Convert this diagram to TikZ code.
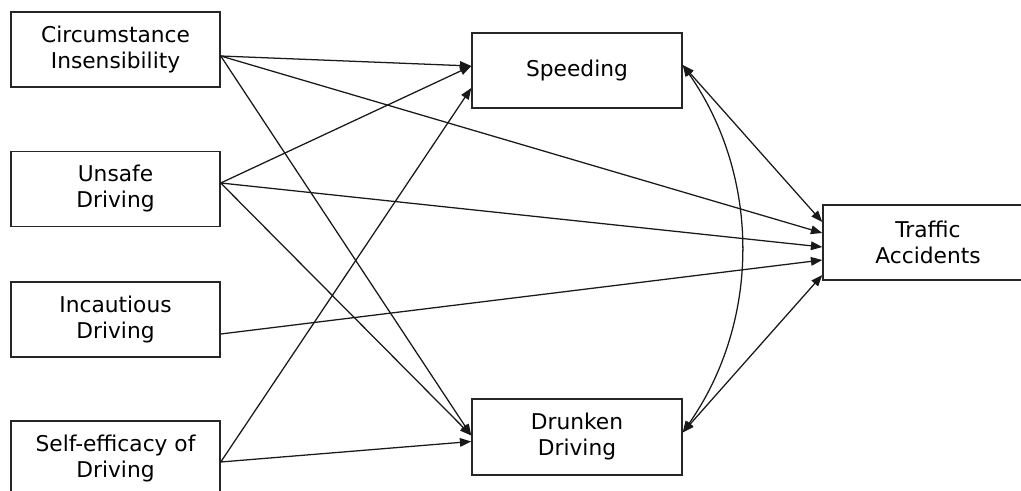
\documentclass[tikz,border=0pt]{standalone}
\usepackage{fontspec}
\setmainfont{DejaVu Sans}
\usetikzlibrary{arrows.meta,calc}
\begin{document}
\begin{tikzpicture}[x=0.75pt,y=-0.75pt,
  box/.style={draw=black!85, line width=1.1pt, fill=white, minimum width=156.75pt, minimum height=56.25pt, inner sep=0pt, align=center, font=\fontsize{16.3}{19.5}\selectfont},
  tip/.tip={Triangle[length=8.5pt,width=6.5pt]},
  conn/.style={line width=0.95pt, draw=black!90, -tip},
  both/.style={line width=0.95pt, draw=black!90, tip-tip}]
\useasboundingbox (0,0) rectangle (1021,491);
\clip (0,0) rectangle (1021,491);

\node[box] (ci) at (115.5,49.5) {Circumstance\\Insensibility};
\node[box] (ud) at (115.5,189) {Unsafe\\Driving};
\node[box] (id) at (115.5,319.5) {Incautious\\Driving};
\node[box] (se) at (115.5,458.5) {Self-efficacy of\\Driving};
\node[box, minimum width=157.5pt] (sp) at (577,70.5) {Speeding};
\node[box, minimum width=157.5pt, minimum height=57pt] (dd) at (577,437) {Drunken\\Driving};
\node[box, minimum width=157.5pt] (ta) at (928,242.5) {Traffic\\Accidents};

\coordinate (ciR) at ($(ci.east)+(0,6.5)$);
\coordinate (udR) at ($(ud.east)+(0,-6)$);
\coordinate (idR) at ($(id.east)+(0,14.5)$);
\coordinate (seR) at ($(se.east)+(0,3.5)$);
\coordinate (spLa) at ($(sp.west)+(0,-4.5)$);
\coordinate (spLb) at ($(sp.west)+(0,17.5)$);
\coordinate (spR) at ($(sp.east)+(0,-5.5)$);
\coordinate (ddLa) at ($(dd.west)+(0,-1.5)$);
\coordinate (ddLb) at ($(dd.west)+(0,4.5)$);
\coordinate (ddR) at ($(dd.east)+(0,-4.5)$);
\coordinate (taA) at ($(ta.west)+(0,-20.5)$);
\coordinate (taB) at ($(ta.west)+(0,-9.5)$);
\coordinate (taC) at ($(ta.west)+(0,4.5)$);
\coordinate (taD) at ($(ta.west)+(0,17.5)$);
\coordinate (taE) at ($(ta.west)+(0,32.5)$);

\draw[conn] (ciR) -- (spLa);
\draw[conn] (ciR) -- (taB);
\draw[conn] (ciR) -- (ddLa);
\draw[conn] (udR) -- (spLa);
\draw[conn] (udR) -- (taC);
\draw[conn] (udR) -- (ddLa);
\draw[conn] (idR) -- (taD);
\draw[conn] (seR) -- (spLb);
\draw[conn] (seR) -- (ddLb);
\draw[both] (spR) -- (taA);
\draw[both] (ddR) -- (taE);
\draw[both] (spR) to[out=-55,in=55,looseness=0.95] (ddR);
\end{tikzpicture}
\end{document}
